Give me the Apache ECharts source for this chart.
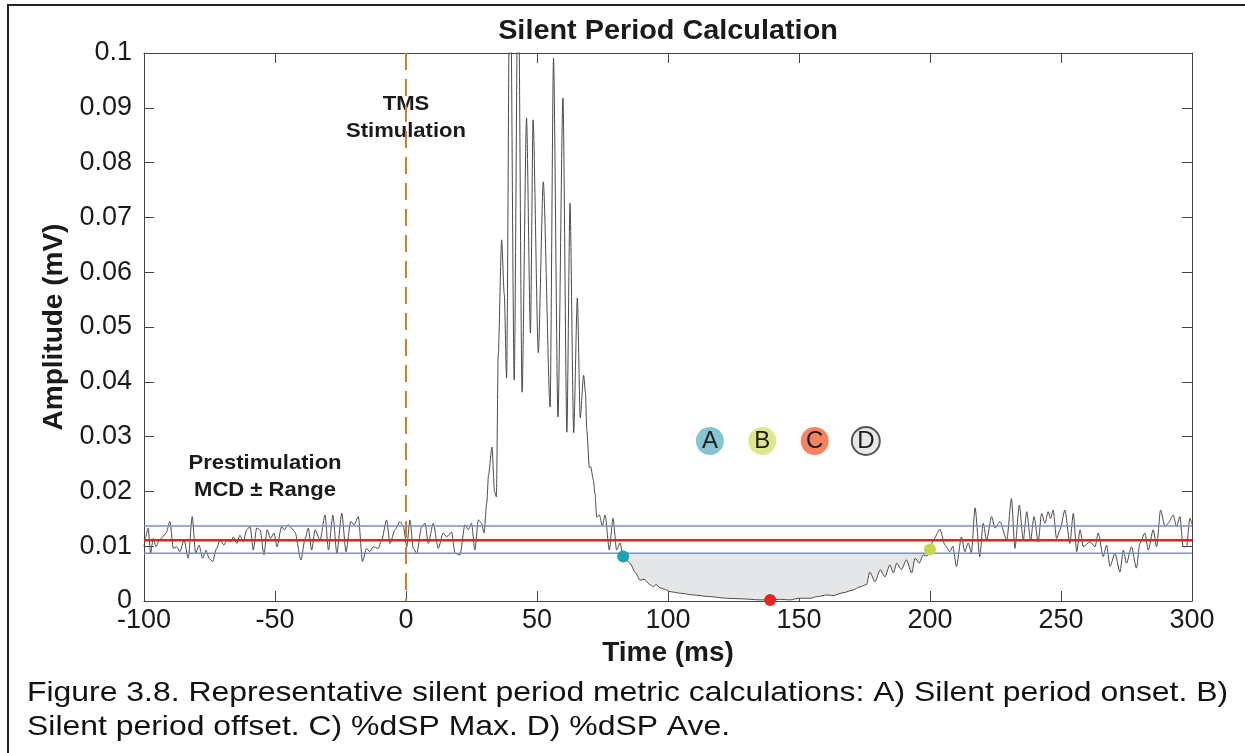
<!DOCTYPE html>
<html><head><meta charset="utf-8">
<script src="https://cdn.jsdelivr.net/npm/echarts@6/dist/echarts.min.js"></script>
<style>html,body{margin:0;padding:0;background:#fff;}#c{width:1245px;height:753px;}</style>
</head><body><div id="c"></div>
<script>
// ---- data ----
const timeMs = [
 -100,-99.4,-98.4,-97.5,-96.5,-95.4,-94.2,-92.9,-91.6,-90.1,-88.8,-87.5,-86.3,-84.7,-83.1,-81.6,-80.3,-79,-77.6,-76.3,
 -75.2,-73.8,-72.3,-71,-69.5,-68.4,-66.9,-65.9,-64.6,-63.4,-62.1,-60.8,-59.5,-58.3,-57,-55.7,-54.2,-53,-51.7,-50.4,
 -49.2,-47.5,-46.5,-45,-43.7,-42.4,-40.1,-38.5,-37.3,-36,-34.7,-32.8,-30.9,-29.6,-27.9,-26.4,-24.5,-22.9,-21.1,-19.8,
 -18.2,-16.6,-15.1,-13.8,-12.5,-10.6,-9.3,-7.4,-6.1,-4.2,-2.3,-1,0.3,1.5,2.8,4.1,6,7.3,8.5,10.4,
 12.3,14.2,15.5,17.4,18.7,20.6,22.5,23.8,25,26.3,27.6,28.8,29.8,30.8,31.5,32.8,33.8,34.5,35.2,36.5,
 37.5,38.4,39.7,41.3,42.8,44.3,46,47.5,48.5,50.5,52.4,55,56.3,58,59.9,61.4,62.6,64,65.4,66.5,
 67.8,68.5,69,70,70.5,71.5,72.1,72.8,73.8,74.9,76,77.6,79,80.4,81.7,82.9,85.5,87.5,89.3,91,
 91.9,93,94.4,95.5,97,99,100.8,105,109.7,116,122.4,128,135,139,143,146.6,150,154.2,157,160.6,
 163,166.8,170.6,173.3,175.8,177,179,181,182.8,184.7,186,187.3,189.1,191,193,194.3,195.9,197.4,198.8,200,
 201.2,203.8,205.7,207.6,208.7,210.1,212,213.3,214.6,215.8,217.2,219,220.3,221.6,223.5,224.8,226.7,229.3,231.1,232.4,
 234.1,235.6,236.9,238.4,239.7,241.3,242.6,243.9,245.1,246,247,248.3,249.6,251.5,253.4,254.7,256,257.3,258.5,261.1,
 263,264.2,266.1,267.4,268.7,270.6,272.5,273.8,275,276.9,278.8,280.1,282,283.3,285.2,286.5,288,289.7,291,292.8,
 294.1,295.4,296.6,297.9,299.2,300
];
const ampMv = [
 0.0099,0.0117,0.0133,0.0087,0.0114,0.0099,0.0111,0.0117,0.0124,0.0145,0.0096,0.0099,0.0090,0.0111,0.0078,0.0154,0.0087,0.0102,0.0078,0.0093,
 0.0078,0.0072,0.0096,0.0111,0.0102,0.0111,0.0108,0.0117,0.0105,0.0120,0.0108,0.0130,0.0136,0.0093,0.0133,0.0130,0.0084,0.0130,0.0114,0.0124,
 0.0099,0.0136,0.0130,0.0139,0.0133,0.0126,0.0075,0.0114,0.0133,0.0093,0.0130,0.0111,0.0157,0.0093,0.0157,0.0087,0.0160,0.0090,0.0145,0.0139,
 0.0154,0.0072,0.0096,0.0090,0.0099,0.0096,0.0111,0.0148,0.0105,0.0130,0.0145,0.0136,0.0099,0.0148,0.0096,0.0087,0.0136,0.0142,0.0105,0.0142,
 0.0096,0.0124,0.0117,0.0126,0.0087,0.0084,0.0139,0.0130,0.0142,0.0093,0.0148,0.0142,0.0124,0.0178,0.0230,0.0281,0.0200,0.0190,0.0450,0.0659,
 0.0560,0.0407,0.1250,0.0403,0.1200,0.0381,0.0881,0.0489,0.0878,0.0453,0.0765,0.0354,0.0991,0.0336,0.0918,0.0308,0.0726,0.0307,0.0553,0.0334,
 0.0412,0.0380,0.0312,0.0243,0.0245,0.0221,0.0197,0.0153,0.0157,0.0137,0.0157,0.0093,0.0151,0.0093,0.0106,0.0081,0.0069,0.0052,0.0038,0.0040,
 0.0035,0.0030,0.0026,0.0030,0.0024,0.0021,0.0017,0.0014,0.0011,0.0008,0.0005,0.0004,0.0002,0.0002,0.0003,0.0002,0.0005,0.0005,0.0008,0.0011,
 0.0010,0.0015,0.0020,0.0026,0.0030,0.0053,0.0035,0.0057,0.0044,0.0066,0.0051,0.0069,0.0057,0.0075,0.0051,0.0078,0.0069,0.0084,0.0082,0.0093,
 0.0111,0.0131,0.0102,0.0090,0.0100,0.0063,0.0117,0.0090,0.0106,0.0088,0.0170,0.0081,0.0142,0.0111,0.0154,0.0133,0.0145,0.0111,0.0187,0.0096,
 0.0175,0.0111,0.0163,0.0111,0.0154,0.0108,0.0160,0.0142,0.0163,0.0150,0.0166,0.0114,0.0130,0.0166,0.0105,0.0160,0.0090,0.0130,0.0099,0.0108,
 0.0099,0.0124,0.0081,0.0102,0.0063,0.0087,0.0053,0.0093,0.0069,0.0099,0.0060,0.0105,0.0124,0.0093,0.0130,0.0099,0.0166,0.0136,0.0142,0.0157,
 0.0136,0.0154,0.0099,0.0099,0.0151,0.0140
];
const mcdMean = 0.0111;
const mcdUpper = 0.0137;
const mcdLower = 0.0087;
const tmsTime = 0;
const onsetPoint = [82.9, 0.0081];
const offsetPoint = [200, 0.0094];
const maxPoint = [139, 0.0002];
const keyLetters = ['A', 'B', 'C', 'D'];
const keyTimes = [116, 136, 156, 175.5];
const keyAmp = 0.0292;

// ---- chart ----
const FONT = '"Liberation Sans", Arial, Helvetica, sans-serif';
const signal = timeMs.map((t, i) => [t, ampMv[i]]);
const fillPts = signal.filter(p => p[0] >= onsetPoint[0] && p[0] <= offsetPoint[0]);
const xRange = [-100, 300];
const hLine = v => [[xRange[0], v], [xRange[1], v]];

const keyColors = ['#84c5d1', '#dde88e', '#f4845f', '#e6e7e9'];
const keyBorders = ['#84c5d1', '#dde88e', '#f4845f', '#555555'];

const chart = echarts.init(document.getElementById('c'), null, {renderer: 'canvas'});
const axisLine = {show: true, onZero: false, lineStyle: {color: '#444', width: 1}};
const tick = {show: true, inside: true, length: 10, lineStyle: {color: '#444'}};
chart.setOption({
  animation: false,
  backgroundColor: '#fff',
  grid: {left: 144, right: 53, top: 53, bottom: 152, containLabel: false},
  xAxis: [{
    type: 'value', min: -100, max: 300, interval: 50,
    axisLine: axisLine, axisTick: tick,
    axisLabel: {fontFamily: FONT, fontSize: 27, color: '#1a1a1a', margin: 6},
    splitLine: {show: false},
    name: 'Time (ms)', nameLocation: 'middle', nameGap: 34,
    nameTextStyle: {fontFamily: FONT, fontSize: 28, fontWeight: 'bold', color: '#1a1a1a'}
  }, {
    type: 'value', position: 'top', min: -100, max: 300, interval: 50,
    axisLine: axisLine, axisTick: tick,
    axisLabel: {show: false}, splitLine: {show: false}
  }],
  yAxis: [{
    type: 'value', min: 0, max: 0.1, interval: 0.01,
    axisLine: axisLine, axisTick: tick,
    axisLabel: {fontFamily: FONT, fontSize: 27, color: '#1a1a1a', margin: 12,
      formatter: v => String(+v.toFixed(3))},
    splitLine: {show: false},
    name: 'Amplitude (mV)', nameLocation: 'middle', nameGap: 72,
    nameTextStyle: {fontFamily: FONT, fontSize: 28, fontWeight: 'bold', color: '#1a1a1a'}
  }, {
    type: 'value', position: 'right', min: 0, max: 0.1, interval: 0.01,
    axisLine: axisLine, axisTick: tick,
    axisLabel: {show: false}, splitLine: {show: false}
  }],
  graphic: [
    {type: 'rect', shape: {x: 8, y: 5, width: 1400, height: 900}, style: {fill: 'none', stroke: '#222', lineWidth: 2}, silent: true},
    {type: 'text', x: 668, y: 31, scaleX: 1.03, style: {text: 'Silent Period Calculation', font: 'bold 28px ' + FONT, fill: '#1a1a1a', textAlign: 'center', textVerticalAlign: 'middle'}},
    {type: 'text', x: 406, y: 118, scaleX: 1.05, style: {text: 'TMS\nStimulation', font: 'bold 21px ' + FONT, lineHeight: 27, fill: '#1a1a1a', textAlign: 'center', textVerticalAlign: 'middle'}},
    {type: 'text', x: 265, y: 477, scaleX: 1.05, style: {text: 'Prestimulation\nMCD \u00b1 Range', font: 'bold 21px ' + FONT, lineHeight: 27, fill: '#1a1a1a', textAlign: 'center', textVerticalAlign: 'middle'}},
    {type: 'text', x: 27, y: 693, scaleX: 1.14, style: {text: 'Figure 3.8. Representative silent period metric calculations: A) Silent period onset. B)', font: '28px ' + FONT, fill: '#111', textAlign: 'left', textVerticalAlign: 'middle'}},
    {type: 'text', x: 27, y: 727, scaleX: 1.14, style: {text: 'Silent period offset. C) %dSP Max. D) %dSP Ave.', font: '28px ' + FONT, fill: '#111', textAlign: 'left', textVerticalAlign: 'middle'}}
  ],
  series: [
    {
      type: 'custom', name: 'dSP area', z: 1,
      data: [0],
      renderItem: (params, api) => {
        const pts = fillPts.map(p => api.coord(p));
        const last = fillPts[fillPts.length - 1], first = fillPts[0];
        pts.push(api.coord([last[0], mcdLower]));
        pts.push(api.coord([first[0], mcdLower]));
        return {type: 'polygon', shape: {points: pts}, style: {fill: '#e5e6e8', stroke: 'none'}};
      }
    },
    {type: 'line', name: 'EMG', data: signal, showSymbol: false, smooth: 0.25, smoothMonotone: 'x',
     lineStyle: {color: '#4a4a4a', width: 1}, z: 3},
    {type: 'line', data: hLine(mcdUpper), showSymbol: false, lineStyle: {color: '#7d8fc2', width: 1.5}, z: 4},
    {type: 'line', data: hLine(mcdLower), showSymbol: false, lineStyle: {color: '#7d8fc2', width: 1.5}, z: 4},
    {type: 'line', data: hLine(mcdMean), showSymbol: false, lineStyle: {color: '#ec1c24', width: 2.5}, z: 5},
    {type: 'line', data: [[tmsTime, 0.1], [tmsTime, 0]], showSymbol: false,
     lineStyle: {color: '#d97a2b', width: 2, type: [17, 9]}, z: 6},
    {type: 'scatter', data: [onsetPoint], symbolSize: 12, itemStyle: {color: '#1fa3b3', opacity: 1}, z: 7},
    {type: 'scatter', data: [offsetPoint], symbolSize: 12, itemStyle: {color: '#c6d84a', opacity: 1}, z: 7},
    {type: 'scatter', data: [maxPoint], symbolSize: 12, itemStyle: {color: '#e52521', opacity: 1}, z: 7, clip: false},
    {type: 'scatter', z: 8,
     data: keyLetters.map((l, i) => ({value: [keyTimes[i], keyAmp], name: l,
       itemStyle: {color: keyColors[i], borderColor: keyBorders[i], borderWidth: i === 3 ? 2 : 0, opacity: 1}})),
     symbolSize: 28,
     label: {show: true, position: 'inside', formatter: p => p.name, fontFamily: FONT, fontSize: 24, color: '#1a1a1a'}}
  ]
});
</script></body></html>
